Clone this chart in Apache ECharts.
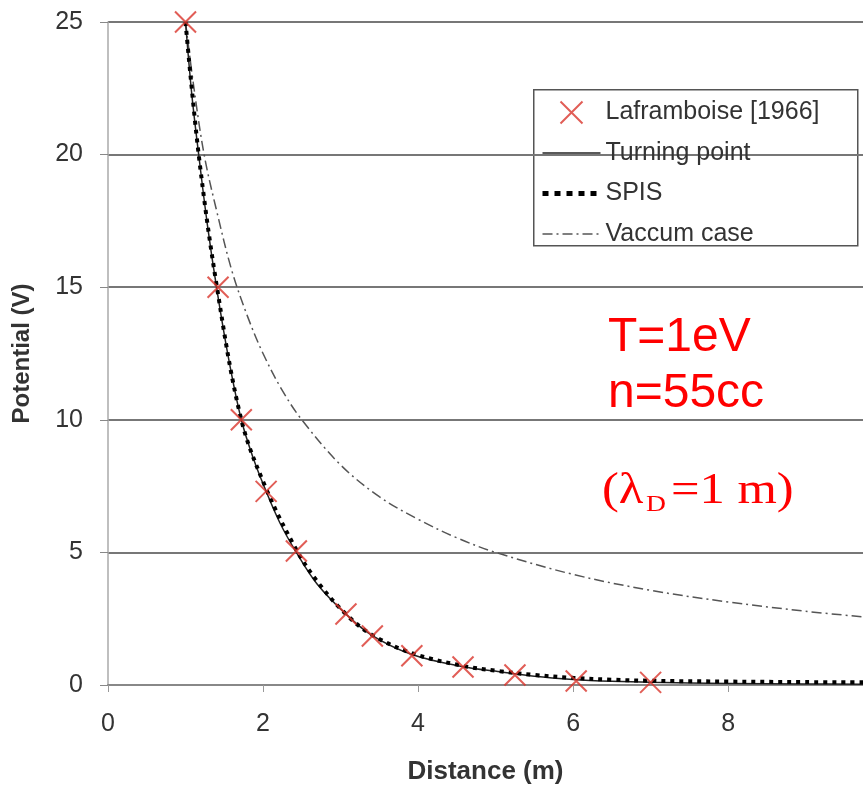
<!DOCTYPE html>
<html><head><meta charset="utf-8">
<script src="https://cdn.jsdelivr.net/npm/echarts@6/dist/echarts.min.js"></script>
<style>html,body{margin:0;padding:0;background:#fff}#c{width:863px;height:790px}</style>
</head><body><div id="c"></div>
<script>
// Laframboise [1966] reference points (distance m, potential V)
const laframX = [1.0, 1.42, 1.72, 2.04, 2.43, 3.07, 3.41, 3.92, 4.58, 5.25, 6.04, 7.0];
const laframY = [25, 15, 10, 7.3, 5.05, 2.68, 1.85, 1.1, 0.68, 0.38, 0.15, 0.1];
// Turning point curve
const turnX = [1.0, 1.08, 1.17, 1.28, 1.4, 1.55, 1.72, 1.88, 2.04, 2.22, 2.43, 2.7, 3.06, 3.4, 3.92, 4.58, 5.06, 5.5, 6.0, 6.5, 7.0, 8.0, 9.0, 9.74];
const turnY = [25, 22.3, 20, 17.4, 15, 12.4, 10, 8.5, 7.3, 6.1, 5.0, 3.8, 2.7, 1.88, 1.15, 0.69, 0.5, 0.33, 0.21, 0.14, 0.1, 0.06, 0.04, 0.03];
// SPIS curve
const spisX = [1.0, 1.17, 1.4, 1.72, 2.04, 2.43, 2.7, 3.06, 3.4, 3.92, 4.58, 5.06, 5.5, 6.0, 6.5, 7.0, 8.0, 9.0, 9.74];
const spisY = [25, 20, 15.1, 10, 7.4, 5.1, 3.9, 2.7, 1.9, 1.2, 0.72, 0.52, 0.38, 0.27, 0.2, 0.16, 0.13, 0.11, 0.1];
// Vacuum case curve
const vacX = [1.0, 1.1, 1.24, 1.4, 1.6, 1.8, 2.0, 2.25, 2.5, 3.0, 3.5, 4.0, 4.5, 5.0, 6.0, 7.0, 8.0, 9.0, 9.74];
const vacY = [25, 22.7, 20, 17.9, 15.6, 13.9, 12.5, 11.1, 10, 8.3, 7.1, 6.25, 5.55, 5.0, 4.17, 3.57, 3.13, 2.78, 2.57];
const names = ['Laframboise [1966]', 'Turning point', 'SPIS', 'Vaccum case'];

const zip = (a, b) => a.map((v, i) => [v, b[i]]);
const FONT = 'Liberation Sans, Arial, sans-serif';
const XPATH = 'path://M0,0 L10,10 M10,0 L0,10';
const chart = echarts.init(document.getElementById('c'));
chart.setOption({
  backgroundColor: '#fff',
  animation: false,
  grid: { left: 108, right: 0, top: 22, bottom: 105, containLabel: false },
  xAxis: {
    type: 'value', min: 0, max: 9.74, interval: 2,
    name: 'Distance (m)', nameLocation: 'middle', nameGap: 74,
    nameTextStyle: { fontFamily: FONT, fontSize: 26, fontWeight: 'bold', color: '#333' },
    axisLine: { show: true, lineStyle: { color: '#888', width: 2 } },
    axisTick: { show: true, length: 7, lineStyle: { color: '#999', width: 1 } },
    axisLabel: { fontFamily: FONT, fontSize: 25, color: '#333', margin: 27, showMaxLabel: false,
      formatter: v => (Math.abs(v % 2) < 1e-9 ? String(v) : '') },
    splitLine: { show: false }
  },
  yAxis: {
    type: 'value', min: 0, max: 25, interval: 5,
    name: 'Potential (V)', nameLocation: 'middle', nameGap: 74, nameRotate: 90,
    nameTextStyle: { fontFamily: FONT, fontSize: 24, fontWeight: 'bold', color: '#333' },
    axisLine: { show: true, lineStyle: { color: '#aaa', width: 1.5 } },
    axisTick: { show: true, length: 8, lineStyle: { color: '#888', width: 1 } },
    axisLabel: { fontFamily: FONT, fontSize: 25, color: '#333', margin: 25 },
    splitLine: { show: true, lineStyle: { color: '#777', width: 2 } }
  },
  legend: {
    orient: 'vertical', left: 535, top: 95,
    itemWidth: 58, itemHeight: 22, itemGap: 15.5,
    selectedMode: false,
    textStyle: { fontFamily: FONT, fontSize: 25, color: '#333', lineHeight: 22 },
    data: [
      { name: names[0] },
      { name: names[1], itemStyle: { opacity: 0 }, lineStyle: { width: 1.5, color: '#222' } },
      { name: names[2], itemStyle: { opacity: 0 }, lineStyle: { width: 5, color: '#000', type: [6, 6], cap: 'butt' } },
      { name: names[3], itemStyle: { opacity: 0 }, lineStyle: { width: 1.5, color: '#555', type: [10, 4, 2, 4] } }
    ]
  },
  graphic: [
    { type: 'rect', left: 533, top: 89, z: 0, shape: { width: 324, height: 156 },
      style: { fill: '#fff', stroke: '#555', lineWidth: 1.5 } },
    { type: 'text', left: 608, top: 314, style: { text: 'T=1eV', font: '48px Liberation Sans, Arial', fill: '#ff0000' } },
    { type: 'text', left: 608, top: 370, style: { text: 'n=55cc', font: '48px Liberation Sans, Arial', fill: '#ff0000' } },
    { type: 'text', x: 602, y: 469, scaleX: 1.15, style: { text: '(λ', font: '44px Liberation Serif, Times New Roman', fill: '#ff0000' } },
    { type: 'text', x: 646, y: 493, scaleX: 1.2, style: { text: 'D', font: '23px Liberation Serif, Times New Roman', fill: '#ff0000' } },
    { type: 'text', x: 671, y: 469, scaleX: 1.15, style: { text: '=1 m)', font: '44px Liberation Serif, Times New Roman', fill: '#ff0000' } }
  ],
  series: [
    { name: names[0], type: 'scatter', z: 5, symbol: XPATH, symbolSize: 21,
      itemStyle: { color: 'rgba(0,0,0,0)', borderColor: '#d9352c', borderWidth: 2 },
      data: zip(laframX, laframY) },
    { name: names[1], type: 'line', z: 3, symbol: 'none', smooth: 0.35,
      lineStyle: { color: '#222', width: 1.5 }, itemStyle: { color: '#222' },
      data: zip(turnX, turnY) },
    { name: names[2], type: 'line', z: 4, symbol: 'none', smooth: 0.35,
      lineStyle: { color: '#000', width: 4, type: [4, 5], cap: 'butt' }, itemStyle: { color: '#000' },
      data: zip(spisX, spisY) },
    { name: names[3], type: 'line', z: 2, symbol: 'none', smooth: 0.35,
      lineStyle: { color: '#555', width: 1.5, type: [10, 4, 2, 4] }, itemStyle: { color: '#555' },
      data: zip(vacX, vacY) }
  ]
});
</script></body></html>
